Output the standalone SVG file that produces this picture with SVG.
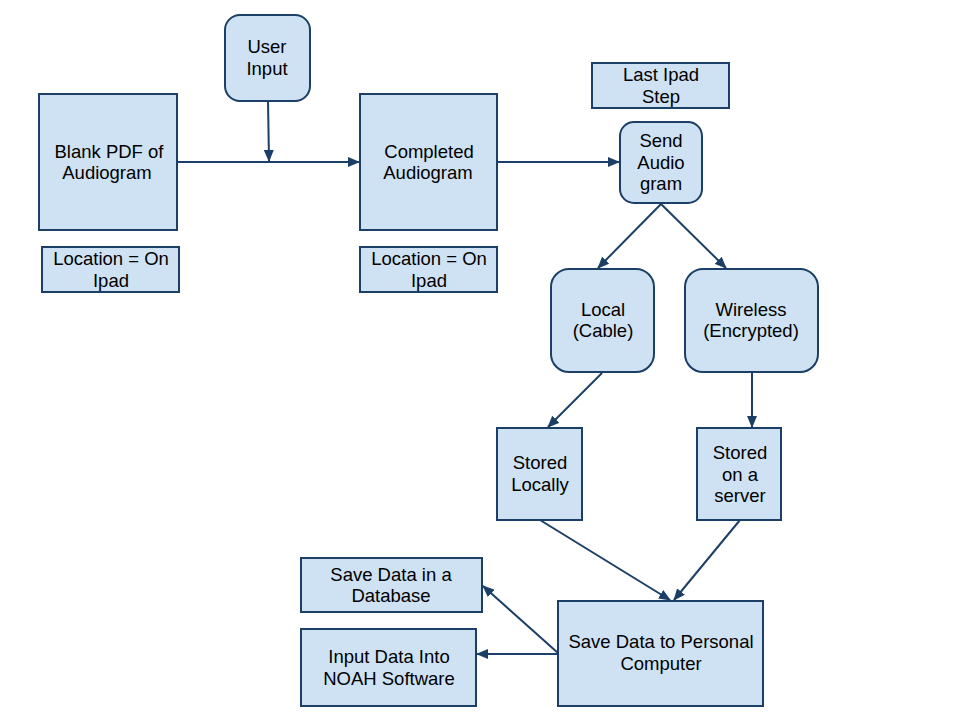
<svg xmlns="http://www.w3.org/2000/svg" width="960" height="720" viewBox="0 0 960 720">
<style>
.n{fill:#cfe2f3;stroke:#1b3f66;stroke-width:2}
.t{font-family:"Liberation Sans",Arial,sans-serif;font-size:18.5px;fill:#000;text-anchor:middle}
.c{stroke:#1b3f66;stroke-width:2;fill:none;marker-end:url(#a)}
</style>
<defs>
<marker id="a" markerWidth="12" markerHeight="10" refX="11" refY="5" orient="auto" markerUnits="userSpaceOnUse">
<path d="M0,0 L12,5 L0,10 Z" fill="#1b3f66"/>
</marker>
</defs>
<rect width="960" height="720" fill="#fff"/>
<g id="connectors">
<line x1="268" y1="101" x2="269" y2="161" class="c"/>
<line x1="177" y1="162" x2="359" y2="162" class="c"/>
<line x1="497" y1="162" x2="619" y2="162" class="c"/>
<line x1="661" y1="204" x2="598" y2="268" class="c"/>
<line x1="661" y1="204" x2="726" y2="268" class="c"/>
<line x1="602" y1="373" x2="548" y2="427" class="c"/>
<line x1="752" y1="373" x2="752" y2="427" class="c"/>
<line x1="540" y1="520" x2="670" y2="600" class="c"/>
<line x1="740" y1="520" x2="674" y2="600" class="c"/>
<line x1="558" y1="653" x2="483" y2="586" class="c"/>
<line x1="558" y1="654" x2="477" y2="654" class="c"/>
</g>
<g id="blank"><rect x="39" y="94" width="138" height="136" class="n"/><text class="t" x="109" y="158">Blank PDF of</text><text class="t" x="107" y="179">Audiogram</text></g>
<g id="loc1"><rect x="42" y="247" width="137" height="45" class="n"/><text class="t" x="111" y="265">Location = On</text><text class="t" x="111" y="287">Ipad</text></g>
<g id="user"><rect x="225" y="15" width="85" height="86" rx="15" class="n"/><text class="t" x="267" y="53">User</text><text class="t" x="267" y="75">Input</text></g>
<g id="completed"><rect x="360" y="94" width="137" height="136" class="n"/><text class="t" x="429" y="158">Completed</text><text class="t" x="428" y="179">Audiogram</text></g>
<g id="loc2"><rect x="360" y="247" width="137" height="45" class="n"/><text class="t" x="429" y="265">Location = On</text><text class="t" x="429" y="287">Ipad</text></g>
<g id="last"><rect x="592" y="63" width="137" height="45" class="n"/><text class="t" x="661" y="81">Last Ipad</text><text class="t" x="661" y="103">Step</text></g>
<g id="send"><rect x="620" y="122" width="82" height="81" rx="14" class="n"/><text class="t" x="661" y="147">Send</text><text class="t" x="661" y="169">Audio</text><text class="t" x="661" y="190">gram</text></g>
<g id="local"><rect x="551" y="269" width="103" height="103" rx="18" class="n"/><text class="t" x="603" y="316">Local</text><text class="t" x="603" y="337">(Cable)</text></g>
<g id="wireless"><rect x="685" y="269" width="133" height="103" rx="18" class="n"/><text class="t" x="751" y="316">Wireless</text><text class="t" x="751" y="337">(Encrypted)</text></g>
<g id="storedl"><rect x="497" y="428" width="85" height="92" class="n"/><text class="t" x="540" y="469">Stored</text><text class="t" x="540" y="491">Locally</text></g>
<g id="storeds"><rect x="697" y="428" width="84" height="92" class="n"/><text class="t" x="740" y="459">Stored</text><text class="t" x="740" y="481">on a</text><text class="t" x="740" y="502">server</text></g>
<g id="pc"><rect x="558" y="601" width="205" height="105" class="n"/><text class="t" x="661" y="648">Save Data to Personal</text><text class="t" x="661" y="670">Computer</text></g>
<g id="db"><rect x="301" y="558" width="181" height="54" class="n"/><text class="t" x="391" y="581">Save Data in a</text><text class="t" x="391" y="602">Database</text></g>
<g id="noah"><rect x="301" y="629" width="175" height="77" class="n"/><text class="t" x="389" y="663">Input Data Into</text><text class="t" x="389" y="685">NOAH Software</text></g>
</svg>
